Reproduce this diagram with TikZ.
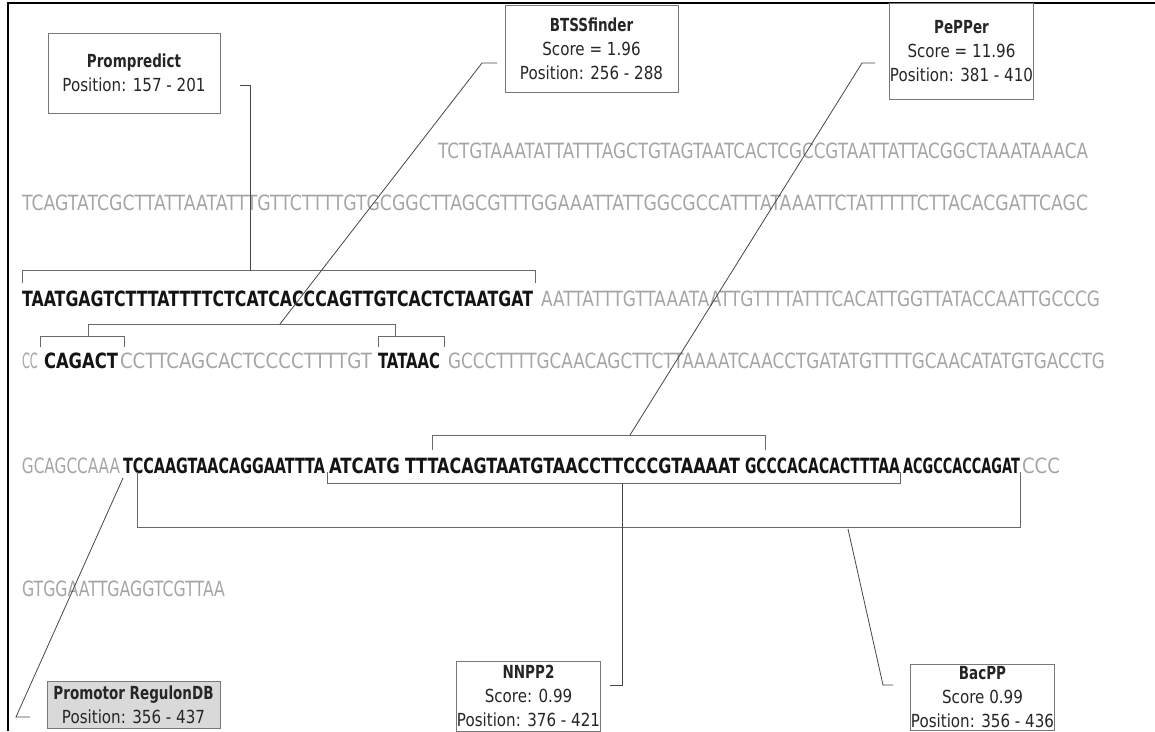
\documentclass[tikz,border=0pt]{standalone}
\usepackage{fontspec}
\usepackage{graphicx}
\setmainfont{DejaVu Sans}[FakeStretch=0.86,BoldFeatures={FakeStretch=0.82}]
\newfontfamily\lblfont{DejaVu Sans}[FakeStretch=0.84,BoldFeatures={FakeStretch=0.75}]
\definecolor{seqgray}{RGB}{165,165,165}
\definecolor{seqdark}{RGB}{20,20,20}
\definecolor{brgray}{RGB}{105,105,105}
\definecolor{conngray}{RGB}{70,70,70}
\definecolor{boxgray}{RGB}{120,120,120}
\definecolor{regfill}{RGB}{217,217,217}
\newlength\segw
\newcommand\fitw[2]{\settowidth{\segw}{#2}\scalebox{\fpeval{(#1)/\segw}}[1]{#2}}
\tikzset{
  seq/.style={anchor=base west, inner sep=0pt, outer sep=0pt, text=seqgray, font=\fontsize{21}{21}\selectfont},
  seqd/.style={seq, text=seqdark},
  lbl/.style={draw=boxgray, line width=0.9pt, align=center, inner sep=0pt, text=black!85, font=\lblfont\fontsize{18}{24}\selectfont},
  brk/.style={draw=brgray, line width=1pt},
  conn/.style={draw=conngray, line width=0.8pt},
}
\begin{document}
\begin{tikzpicture}[x=1pt,y=-1pt]
\useasboundingbox (0,0) rectangle (1155,731);
\draw[line width=2pt] (8,731) -- (8,3) -- (1155,3);

% sequence rows
\node[seq] (r1) at (438,158) {\fitw{650}{TCTGTAAATATTATTTAGCTGTAGTAATCACTCGCCGTAATTATTACGGCTAAATAAACA}};
\node[seq] (r2) at (22,210) {\fitw{1066}{TCAGTATCGCTTATTAATATTTGTTCTTTTGTGCGGCTTAGCGTTTGGAAATTATTGGCGCCATTTATAAATTCTATTTTTCTTACACGATTCAGC}};
\node[seqd] (r3a) at (22,306) {\fitw{511}{\bfseries TAATGAGTCTTTATTTTCTCATCACCCAGTTGTCACTCTAATGAT}};
\node[seq] (r3b) at (541,306) {\fitw{559}{AATTATTTGTTAAATAATTGTTTTATTTCACATTGGTTATACCAATTGCCCG}};
\node[seq] (r4a) at (22,368) {\fitw{16}{CC}};
\node[seqd] (r4b) at (44,368) {\fitw{74}{\bfseries CAGACT}};
\node[seq] (r4c) at (120,368) {\fitw{252}{CCTTCAGCACTCCCCTTTTGT}};
\node[seqd] (r4d) at (378,368) {\fitw{62}{\bfseries TATAAC}};
\node[seq] (r4e) at (448,368) {\fitw{657}{GCCCTTTTGCAACAGCTTCTTAAAATCAACCTGATATGTTTTGCAACATATGTGACCTG}};
\node[seq] (r5a) at (22,473) {\fitw{98}{GCAGCCAAA}};
\node[seqd] (r5b) at (123,473) {\fitw{202}{\bfseries TCCAAGTAACAGGAATTTA}};
\node[seqd] (r5c) at (329,473) {\fitw{71}{\bfseries ATCATG}};
\node[seqd] (r5d) at (405,473) {\fitw{335}{\bfseries TTTACAGTAATGTAACCTTCCCGTAAAAT}};
\node[seqd] (r5e) at (745,473) {\fitw{155}{\bfseries GCCCACACACTTTAA}};
\node[seqd] (r5f) at (903,473) {\fitw{117}{\bfseries ACGCCACCAGAT}};
\node[seq] (r5g) at (1022,473) {\fitw{38}{CCC}};
\node[seq] (r6) at (22,596) {\fitw{203}{GTGGAATTGAGGTCGTTAA}};

% labels
\node[lbl, minimum width=172, minimum height=80] (pp) at (134,73) {{\bfseries Prompredict}\\Position: 157 - 201};
\node[lbl, minimum width=173, minimum height=87] (bt) at (591.5,48.5) {{\bfseries BTSSfinder}\\Score = 1.96\\Position: 256 - 288};
\node[lbl, minimum width=140, minimum height=96] (pe) at (961.5,51.5) {{\bfseries PePPer}\\Score = 11.96\\Position: 381 - 410};
\node[lbl, fill=regfill, minimum width=173, minimum height=47] (rd) at (133.5,705) {{\bfseries Promotor RegulonDB}\\Position: 356 - 437};
\node[lbl, minimum width=140, minimum height=70] (nn) at (528.5,696) {{\bfseries NNPP2}\\Score: 0.99\\Position: 376 - 421};
\node[lbl, minimum width=140, minimum height=66] (bp) at (982.5,697) {{\bfseries BacPP}\\Score 0.99\\Position: 356 - 436};

% brackets
\draw[brk] (22,283) -- (22,270) -- (535,270) -- (535,283);
\coordinate (b3) at (250,270);
\draw[brk] (40,347) -- (40,336) -- (124,336) -- (124,347);
\draw[brk] (378,347) -- (378,336) -- (444,336) -- (444,347);
\draw[brk] (88,336) -- (88,324) -- (395,324) -- (395,336);
\coordinate (b4) at (280,324);
\draw[brk] (432,450) -- (432,435) -- (765,435) -- (765,450);
\coordinate (b5t) at (630,435);
\draw[brk] (327,472) -- (327,483) -- (900,483) -- (900,472);
\coordinate (b5n) at (622,483);
\draw[brk] (137,472) -- (137,527) -- (1020,527) -- (1020,472);
\coordinate (b5b) at (848,529);
\coordinate (b5r) at (123,478);

% connectors
\coordinate (pph) at (240,85);
\draw[conn] (pph) -| (b3);
\coordinate (bth) at (497,63);
\draw[conn] (bth) -- ++(-15,0) -- (b4);
\coordinate (peh) at (875,63);
\draw[conn] (peh) -- ++(-13,0) -- (b5t);
\coordinate (nnh) at (610,685);
\draw[conn] (nnh) -| (b5n);
\coordinate (bph) at (893,685);
\draw[conn] (bph) -- ++(-10,0) -- (b5b);
\coordinate (rdh) at (30,717);
\draw[conn] (rdh) -- ++(-14,0) -- (b5r);
\end{tikzpicture}
\end{document}
